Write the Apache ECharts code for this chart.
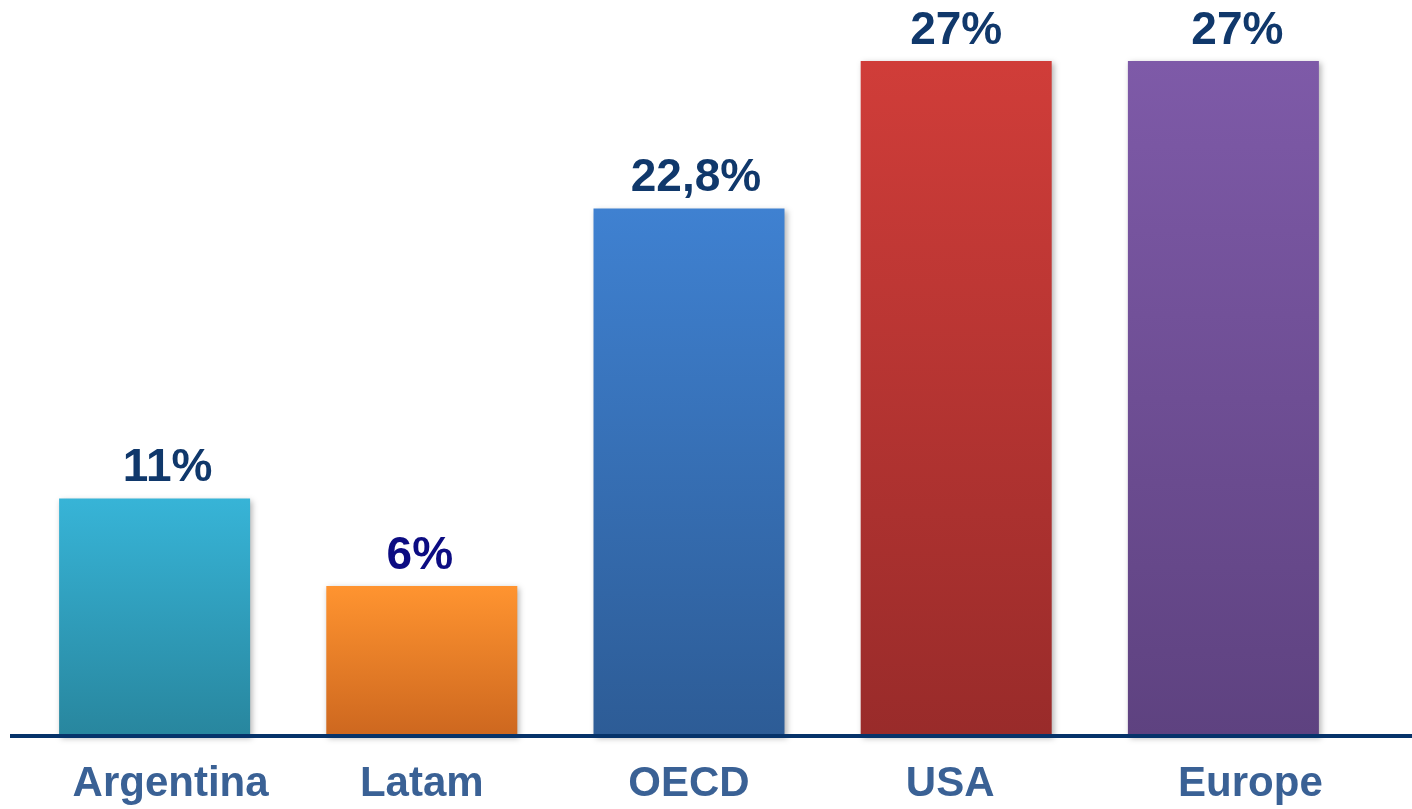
<!DOCTYPE html>
<html>
<head>
<meta charset="utf-8">
<script src="https://cdn.jsdelivr.net/npm/echarts@6/dist/echarts.min.js"></script>
<style>
  html, body { margin: 0; padding: 0; background: #fff; }
  #chart { width: 1412px; height: 809px; }
</style>
</head>
<body>
<div id="chart"></div>
<script>
// categories and values
const categories = ['Argentina', 'Latam', 'OECD', 'USA', 'Europe']
// bar heights as drawn (the picture's bars are not to scale with their labels)
const barHeights = [9.5, 6, 21.1, 27, 27]
const valueLabels = ['11%', '6%', '22,8%', '27%', '27%']

// styling
const topColors = ['#37b4d7', '#ff9430', '#3f81d1', '#d03d39', '#7e5aa8']
const bottomColors = ['#28869e', '#cd671f', '#2d5c96', '#992b2a', '#5e4280']
const labelColors = ['#10386b', '#0c0c82', '#10386b', '#10386b', '#10386b']
// small horizontal nudges, the original labels are not quite centred
const valueNudge = [13, -2, 7, 0, 14]
const catNudge = [16, 0, 0, -6, 27]

const chart = echarts.init(document.getElementById('chart'))

const data = barHeights.map((v, i) => ({
  value: v,
  itemStyle: {
    color: new echarts.graphic.LinearGradient(0, 0, 0, 1, [
      { offset: 0, color: topColors[i] },
      { offset: 1, color: bottomColors[i] }
    ])
  },
  label: { color: labelColors[i], offset: [valueNudge[i], 0] }
}))

const rich = {}
catNudge.forEach((s, i) => {
  rich['c' + i] = {
    fontFamily: 'Liberation Sans, Arial, sans-serif',
    fontWeight: 'bold',
    fontSize: 42,
    color: '#3a6195',
    padding: s >= 0 ? [0, 0, 0, 2 * s] : [0, -2 * s, 0, 0]
  }
})

chart.setOption({
  animation: false,
  grid: {
    left: 21,
    right: 55,
    top: 61,
    bottom: 73
  },
  xAxis: {
    type: 'category',
    data: categories,
    axisTick: { show: false },
    axisLine: { lineStyle: { color: '#06336a', width: 4 } },
    axisLabel: {
      interval: 0,
      hideOverlap: false,
      margin: 27,
      fontFamily: 'Liberation Sans, Arial, sans-serif',
      fontWeight: 'bold',
      fontSize: 42,
      color: '#3a6195',
      formatter: (v, i) => '{c' + i + '|' + v + '}',
      rich
    }
  },
  yAxis: {
    type: 'value',
    min: 0,
    max: 27,
    show: false
  },
  series: [
    {
      type: 'bar',
      data,
      barWidth: 191,
      itemStyle: {
        shadowBlur: 6,
        shadowColor: 'rgba(0, 0, 0, 0.3)',
        shadowOffsetX: 2,
        shadowOffsetY: 2
      },
      label: {
        show: true,
        position: 'top',
        distance: 7,
        fontFamily: 'Liberation Sans, Arial, sans-serif',
        fontWeight: 'bold',
        fontSize: 46,
        formatter: (p) => valueLabels[p.dataIndex]
      }
    }
  ]
})

// the baseline runs past the plot area on both sides
const y0 = chart.convertToPixel({ yAxisIndex: 0 }, 0)
chart.setOption({
  graphic: [{
    type: 'line',
    shape: { x1: 10, y1: y0, x2: 1412, y2: y0 },
    style: { stroke: '#06336a', lineWidth: 4 },
    z: 10
  }]
})
</script>
</body>
</html>
